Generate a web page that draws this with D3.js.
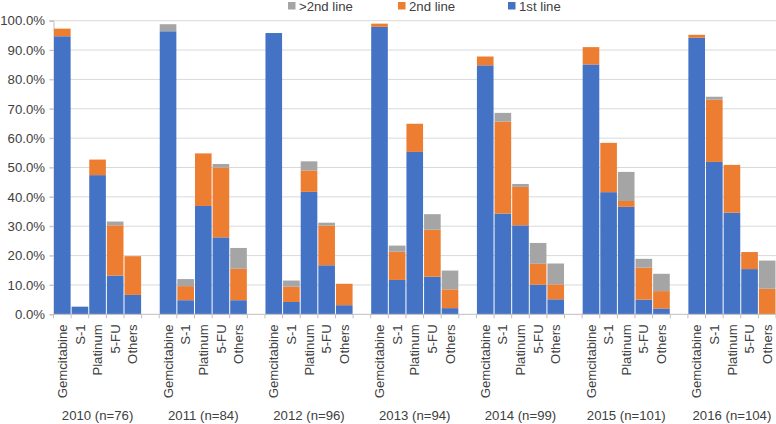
<!DOCTYPE html>
<html><head><meta charset="utf-8">
<script src="https://cdn.jsdelivr.net/npm/d3@7"></script>
<style>body{margin:0;background:#fff}svg{display:block;font-family:Arial,"Liberation Sans",sans-serif}</style>
</head><body><svg id="c" width="776" height="424"></svg>
<script>
const years = ["2010","2011","2012","2013","2014","2015","2016"];
const counts = [76,84,96,94,99,101,104];
const drugs = ["Gemcitabine","S-1","Platinum","5-FU","Others"];
const seriesNames = ["1st line","2nd line",">2nd line"];
const seriesColors = ["#4472C4","#ED7D31","#A5A5A5"];
// percent values per year, per drug (segment heights)
const firstLine = [
  [94.7, 2.6, 47.4, 13.2, 6.6],
  [96.4, 4.8, 36.9, 26.2, 4.8],
  [95.8, 4.2, 41.7, 16.7, 3.1],
  [97.9, 11.7, 55.3, 12.8, 2.1],
  [84.8, 34.3, 30.3, 10.1, 5.1],
  [85.1, 41.6, 36.6, 5.0, 2.0],
  [94.2, 51.9, 34.6, 15.4, 0]
];
const secondLine = [
  [2.6, 0, 5.3, 17.1, 13.2],
  [0, 4.8, 17.9, 23.8, 10.7],
  [0, 5.2, 7.3, 13.5, 7.3],
  [1.1, 9.6, 9.6, 16.0, 6.4],
  [3.0, 31.3, 13.1, 7.1, 5.1],
  [5.9, 16.8, 2.0, 10.9, 5.9],
  [1.0, 21.2, 16.3, 5.8, 8.7]
];
const beyondSecond = [
  [0, 0, 0, 1.3, 0],
  [2.4, 2.4, 0, 1.2, 7.1],
  [0, 2.1, 3.1, 1.0, 0],
  [0, 2.1, 0, 5.3, 6.4],
  [0, 3.0, 1.0, 7.1, 7.1],
  [0, 0, 9.9, 3.0, 5.9],
  [0, 1.0, 0, 0, 9.6]
];
const yTicks = [0,10,20,30,40,50,60,70,80,90,100];

(function(){
const svg = d3.select("#c");
const fs = 13.2;
const mL = 53.5, mR = 776, mT = 20.7, mB = 314.3;

const slots = [];
years.forEach((yr,i)=>{
  drugs.forEach(d=>slots.push(yr+"|"+d));
  if (i < years.length-1) slots.push(yr+"|blank");
});
const x = d3.scaleBand().domain(slots).range([mL,mR]).padding(0);
const y = d3.scaleLinear().domain([0,100]).range([mB,mT]);

svg.append("g").selectAll("line").data(yTicks.filter(t=>t>0)).join("line")
  .attr("x1",mL-4).attr("x2",mR).attr("y1",d=>y(d)).attr("y2",d=>y(d))
  .attr("stroke","#d9d9d9").attr("stroke-width",1);
const yAxis = svg.append("g").attr("transform",`translate(${mL},0)`)
  .call(d3.axisLeft(y).tickValues(yTicks).tickSize(4).tickFormat(d=>d.toFixed(1)+"%"));
yAxis.select(".domain").attr("stroke","#bfbfbf");
yAxis.selectAll(".tick line").attr("stroke","#bfbfbf");
yAxis.selectAll("text").attr("font-size",fs).attr("fill","#404040").attr("font-family","Arial,'Liberation Sans',sans-serif").attr("x",-8.5);

const rows = [];
years.forEach((yr,i)=>drugs.forEach((d,j)=>{
  const vals=[firstLine[i][j],secondLine[i][j],beyondSecond[i][j]];
  let acc=0;
  vals.forEach((v,k)=>{ if(v>0) rows.push({key:yr+"|"+d,y0:acc,y1:acc+v,k}); acc+=v; });
}));
svg.append("g").selectAll("rect").data(rows).join("rect")
  .attr("x",d=>x(d.key)+0.5).attr("width",x.bandwidth()-1)
  .attr("y",d=>y(d.y1)).attr("height",d=>y(d.y0)-y(d.y1))
  .attr("fill",d=>seriesColors[d.k]);

const xa = svg.append("g");
xa.append("line").attr("x1",mL).attr("x2",mR).attr("y1",mB).attr("y2",mB).attr("stroke","#bfbfbf");
const bounds = slots.map(s=>x(s)).concat([mR]);
xa.selectAll(".tk").data(bounds).join("line").attr("class","tk")
  .attr("x1",d=>d).attr("x2",d=>d).attr("y1",mB).attr("y2",mB+4).attr("stroke","#bfbfbf");

const catRows=[];
years.forEach(yr=>drugs.forEach(d=>catRows.push({key:yr+"|"+d,label:d})));
svg.append("g").selectAll("text").data(catRows).join("text")
  .attr("transform",d=>`translate(${x(d.key)+x.bandwidth()/2},${mB+10}) rotate(-90)`)
  .attr("text-anchor","end").attr("dy","0.35em")
  .attr("font-size",fs).attr("fill","#404040").text(d=>d.label);

svg.append("g").selectAll("text").data(years).join("text")
  .attr("x",(d)=>(x(d+"|Gemcitabine")+x(d+"|Others")+x.bandwidth())/2)
  .attr("y",420).attr("text-anchor","middle")
  .attr("font-size",fs).attr("fill","#404040")
  .text((d,i)=>`${d} (n=${counts[i]})`);

const legOrder=[2,1,0];
const legX=[288,398,508];
const lg = svg.append("g");
legOrder.forEach((k,i)=>{
  lg.append("rect").attr("x",legX[i]).attr("y",2).attr("width",7.5).attr("height",7.5).attr("fill",seriesColors[k]);
  lg.append("text").attr("x",legX[i]+11).attr("y",10.5).attr("font-size",fs).attr("fill","#404040").text(seriesNames[k]);
});
})();
</script></body></html>
